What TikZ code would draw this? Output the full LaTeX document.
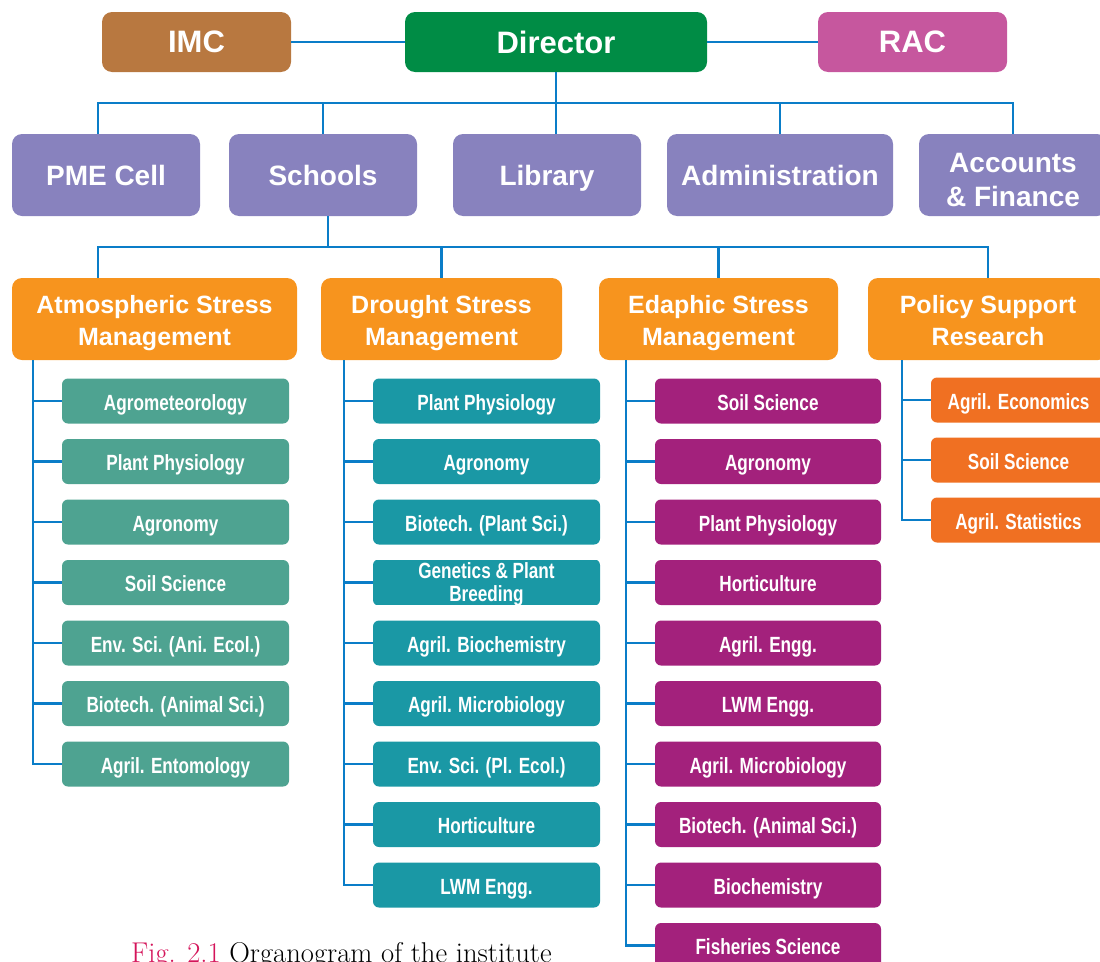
\documentclass[tikz,border=0pt]{standalone}
\usepackage{fontspec}
\newfontfamily\hfont{Liberation Sans}
\newfontfamily\cfont[FakeStretch=0.78]{Liberation Sans}
\definecolor{imcc}{HTML}{B87840}
\definecolor{dirc}{HTML}{008C45}
\definecolor{racc}{HTML}{C6579E}
\definecolor{purp}{HTML}{8882BE}
\definecolor{orng}{HTML}{F7941E}
\definecolor{colA}{HTML}{4EA391}
\definecolor{colB}{HTML}{1A98A5}
\definecolor{colC}{HTML}{A3217C}
\definecolor{colD}{HTML}{F07022}
\definecolor{lineblue}{HTML}{0A7DC8}
\definecolor{capred}{HTML}{D4145A}
\begin{document}
\begin{tikzpicture}[x=1pt,y=-1pt,
  conn/.style={draw=lineblue,line width=2.4pt},
  base/.style={rounded corners=10pt,text=white,inner sep=0pt,align=center},
  topbox/.style={base,minimum height=60pt,font=\hfont\bfseries\fontsize{31}{34}\selectfont},
  midbox/.style={base,fill=purp,minimum height=82pt,text height=20.4pt,text depth=0pt,font=\hfont\bfseries\fontsize{28}{34}\selectfont},
  grpbox/.style={base,fill=orng,minimum height=82pt,text height=58pt,text depth=5pt,font=\hfont\bfseries\fontsize{25}{32}\selectfont},
  subbox/.style={base,rounded corners=6pt,minimum width=227pt,minimum height=45pt,text height=22pt,text depth=4pt,font=\cfont\bfseries\fontsize{22}{23}\selectfont}]
\useasboundingbox (0,0) rectangle (1100,961);
\path[clip] (0,0) rectangle (1100,961);
% top row
\node[topbox,fill=imcc,minimum width=189pt] (imc) at (196.5,42) {IMC};
\node[topbox,fill=dirc,minimum width=302pt] (dir) at (556,42) {Director};
\node[topbox,fill=racc,minimum width=189pt] (rac) at (912.5,42) {RAC};
% second row
\node[midbox,minimum width=188pt] (pme) at (106,175) {PME Cell};
\node[midbox,minimum width=188pt] (sch) at (323,175) {Schools};
\node[midbox,minimum width=188pt] (lib) at (547,175) {Library};
\node[midbox,minimum width=226pt] (adm) at (780,175) {Administration};
\node[midbox,minimum width=188pt,text height=68pt,text depth=5pt] (acc) at (1013,175) {Accounts\\\& Finance};
% third row
\node[grpbox,minimum width=285pt] (atm) at (154.5,319) {Atmospheric Stress\\Management};
\node[grpbox,minimum width=241pt] (dro) at (441.5,319) {Drought Stress\\Management};
\node[grpbox,minimum width=239pt] (eda) at (718.5,319) {Edaphic Stress\\Management};
\node[grpbox,minimum width=240pt] (pol) at (988,319) {Policy Support\\Research};
% connectors top
\draw[conn] (imc) -- (dir);
\draw[conn] (dir) -- (rac);
\coordinate (bus1) at (98,103);
\draw[conn] (dir.south) -- (dir.south |- lib.north);
\draw[conn] (pme.north -| bus1) -- (bus1) -- (bus1 -| acc.north) -- (acc.north);
\draw[conn] (sch.north) -- (sch.north |- bus1);
\draw[conn] (adm.north) -- (adm.north |- bus1);
\coordinate (bus2) at (98,247);
\draw[conn] ([xshift=5pt]sch.south) -- ([xshift=5pt]sch.south |- bus2);
\draw[conn] (atm.north -| bus2) -- (bus2) -- (bus2 -| pol.north) -- (pol.north);
\draw[conn] (dro.north) -- (dro.north |- bus2);
\draw[conn] (eda.north) -- (eda.north |- bus2);
% column 1
\foreach \t [count=\i] in {Agrometeorology,Plant Physiology,Agronomy,Soil Science,Env. Sci. (Ani. Ecol.),Biotech. (Animal Sci.),Agril. Entomology}
  \node[subbox,fill=colA] (a\i) at (175.5,{401+60.5*(\i-1)}) {\t};
% column 2
\foreach \t [count=\i] in {Plant Physiology,Agronomy,Biotech. (Plant Sci.)}
  \node[subbox,fill=colB] (d\i) at (486.5,{401+60.5*(\i-1)}) {\t};
\begin{scope}
  \clip (373,560) rectangle (600,604.5);
  \node[subbox,fill=colB,text height=42pt,text depth=4.6pt] (d4) at (486.5,582.5) {Genetics \& Plant\\Breeding};
\end{scope}
\foreach \t [count=\i from 5] in {Agril. Biochemistry,Agril. Microbiology,Env. Sci. (Pl. Ecol.),Horticulture,LWM Engg.}
  \node[subbox,fill=colB] (d\i) at (486.5,{401+60.5*(\i-1)}) {\t};
% column 3
\foreach \t [count=\i] in {Soil Science,Agronomy,Plant Physiology,Horticulture,Agril. Engg.,LWM Engg.,Agril. Microbiology,Biotech. (Animal Sci.),Biochemistry,Fisheries Science}
  \node[subbox,fill=colC,minimum width=226pt] (e\i) at (768,{401+60.5*(\i-1)}) {\t};
% column 4
\foreach \t [count=\i] in {Agril. Economics,Soil Science,Agril. Statistics}
  \node[subbox,fill=colD,minimum width=175pt] (p\i) at (1018.5,{400+60*(\i-1)}) {\t};
% spines
\coordinate (k1) at (33,0);
\coordinate (k2) at (344,0);
\coordinate (k3) at (626,0);
\coordinate (k4) at (902,0);
\draw[conn] (atm.south -| k1) |- (a7.west);
\foreach \i in {1,...,6} \draw[conn] (a\i.west -| k1) -- (a\i.west);
\draw[conn] (dro.south -| k2) |- (d9.west);
\foreach \i in {1,...,8} \draw[conn] (d\i.west -| k2) -- (d\i.west);
\draw[conn] (eda.south -| k3) |- (e10.west);
\foreach \i in {1,...,9} \draw[conn] (e\i.west -| k3) -- (e\i.west);
\draw[conn] (pol.south -| k4) |- (p3.west);
\foreach \i in {1,2} \draw[conn] (p\i.west -| k4) -- (p\i.west);
% caption
\node[anchor=base west,inner sep=0pt,font=\fontsize{28.6}{30}\selectfont] (cap) at (131,962) {\textcolor{capred}{Fig. 2.1} Organogram of the institute};
\end{tikzpicture}
\end{document}
